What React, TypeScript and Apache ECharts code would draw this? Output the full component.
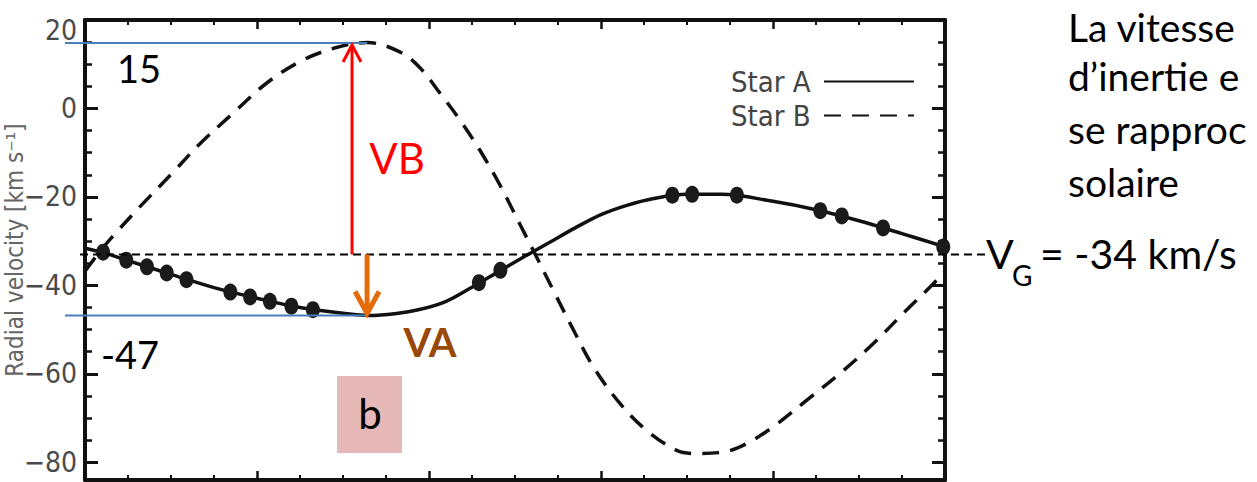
import React, { useEffect, useRef } from "react";
import * as echarts from "echarts";

// ---- axis ticks ----
const phaseMajorInterval = 0.2;
const yMajorTicks = [20, 0, -20, -40, -60, -80];
const yMinorTicks = [20, 15, 10, 5, 0, -5, -10, -15, -20, -25, -30, -35, -40, -45, -50, -55, -60, -65, -70, -75, -80];

// ---- Star A fitted curve (solid) ----
const starAPhase = [0, 0.021, 0.05, 0.1, 0.15, 0.2, 0.25, 0.3, 0.33, 0.36, 0.39, 0.42, 0.45, 0.48, 0.51, 0.54, 0.57, 0.6, 0.63, 0.66, 0.7, 0.74, 0.8, 0.85, 0.9, 0.95, 1.0];
const starAVelocity = [-31.6, -32.6, -34.4, -37.5, -40.5, -42.9, -45.0, -46.3, -46.8, -46.4, -45.4, -43.6, -40.4, -37.0, -33.6, -30.3, -27.0, -24.0, -21.9, -20.4, -19.4, -19.4, -21.0, -22.9, -25.4, -28.3, -31.3];

// ---- Star A observations (dots) ----
const obsAPhase = [0.021, 0.048, 0.072, 0.095, 0.118, 0.169, 0.192, 0.215, 0.24, 0.265, 0.458, 0.483, 0.683, 0.706, 0.758, 0.855, 0.88, 0.928, 0.998];
const obsAVelocity = [-32.5, -34.3, -35.8, -37.2, -38.7, -41.5, -42.6, -43.6, -44.7, -45.5, -39.4, -36.6, -19.6, -19.4, -19.6, -23.1, -24.3, -27.0, -31.3];

// ---- Star B fitted curve (dashed) ----
const starBPhase = [0, 0.017, 0.035, 0.064, 0.103, 0.134, 0.172, 0.211, 0.25, 0.289, 0.328, 0.366, 0.39, 0.413, 0.436, 0.459, 0.483, 0.506, 0.521, 0.545, 0.568, 0.591, 0.622, 0.653, 0.688, 0.71, 0.742, 0.769, 0.8, 0.839, 0.878, 0.917, 0.955, 0.983, 1.0];
const starBVelocity = [-36.8, -32.4, -28.3, -22.2, -14.3, -7.9, -1.1, 5.7, 10.6, 13.6, 14.9, 12.8, 9.1, 3.4, -2.6, -9.4, -17.5, -26.3, -32.0, -41.3, -50.1, -58.4, -66.7, -72.8, -77.3, -78.0, -77.7, -75.8, -72.0, -66.0, -59.9, -53.1, -45.6, -40.3, -36.8];

// ---- annotations ----
const legendNames = ["Star A", "Star B"];
const vbPeakLabel = "15";
const vaMinLabel = "-47";
const vbLineValue = 14.8; // where the picture draws the 15 km/s guide
const vaLineValue = -46.8; // where the picture draws the -47 km/s guide
const vgLineValue = -33.0; // where the picture draws the V_G line
const arrowPhaseVB = 0.3105;
const arrowPhaseVA = 0.328;
const rightTextLines = ["La vitesse", "d\u2019inertie e", "se rapproc", "solaire"];

const narrow = "'Liberation Sans Narrow', 'DejaVu Sans Condensed', 'Roboto Condensed', 'Liberation Sans', sans-serif";
const body = "Lato, 'Open Sans', sans-serif";

const fmtY = (v: number) => (v === 20 ? "{t|20}" : v < 0 ? "\u2212" + Math.abs(v) : String(v));

export default function App() {
  const ref = useRef<HTMLDivElement>(null);
  useEffect(() => {
    document.body.style.margin = "0";
    const el = ref.current!;
    const chart = echarts.init(el, null, { renderer: "svg" });

    const axisLine = { show: true, onZero: false, lineStyle: { color: "#111", width: 4 } };
    const xAxisCommon = {
      type: "value" as const,
      min: 0,
      max: 1,
      interval: phaseMajorInterval,
      axisLine,
      axisTick: { show: true, inside: true, length: 9, lineStyle: { color: "#111", width: 2.5 } },
      minorTick: { show: true, splitNumber: 4, length: 5, lineStyle: { color: "#111", width: 2 } },
      axisLabel: { show: false },
      splitLine: { show: false },
      minorSplitLine: { show: false },
    };
    const labelStyle = { fontFamily: narrow, fontSize: 28, color: "#4a4a4a" };
    const yMajor = (position: "left" | "right", labels: boolean) => ({
      type: "value" as const,
      position,
      min: -84,
      max: 20,
      axisLine,
      axisTick: { show: true, inside: true, length: 13, customValues: yMajorTicks, lineStyle: { color: "#111", width: 3 } },
      axisLabel: labels
        ? {
            show: true,
            customValues: yMajorTicks,
            formatter: fmtY,
            margin: 8,
            ...labelStyle,
            rich: { t: { ...labelStyle, padding: [20, 0, 0, 0] } },
          }
        : { show: false },
      splitLine: { show: false },
    });
    const yMinor = (position: "left" | "right") => ({
      type: "value" as const,
      position,
      min: -84,
      max: 20,
      axisLine: { show: false, onZero: false },
      axisTick: { show: true, inside: true, length: 7, customValues: yMinorTicks, lineStyle: { color: "#111", width: 2.5 } },
      axisLabel: { show: false },
      splitLine: { show: false },
    });

    const option: any = {
      animation: false,
      backgroundColor: "#ffffff",
      grid: { left: 85, right: 312, top: 20, bottom: 2, containLabel: false, outerBoundsMode: "none" },
      legend: {
        data: legendNames,
        orient: "vertical",
        left: 726,
        top: 62,
        align: "right",
        itemWidth: 90,
        itemHeight: 14,
        itemGap: 5,
        formatter: (n: string) => n + " ",
        itemStyle: { opacity: 0 },
        textStyle: { fontFamily: narrow, fontSize: 29, color: "#444" },
      },
      xAxis: [
        { ...xAxisCommon, position: "bottom" },
        { ...xAxisCommon, position: "top" },
      ],
      yAxis: [
        {
          ...yMajor("left", true),
          name: "Radial velocity [km s\u207B\u00B9]",
          nameLocation: "middle",
          nameGap: 58,
          nameMoveOverlap: false,
          nameTextStyle: { fontFamily: narrow, fontSize: 24, color: "#666" },
        },
        yMinor("left"),
        yMajor("right", false),
        yMinor("right"),
      ],
      series: [
        {
          name: "Star A",
          type: "line",
          xAxisIndex: 0,
          yAxisIndex: 0,
          smooth: 0.35,
          symbol: "none",
          lineStyle: { color: "#111", width: 3.5 },
          itemStyle: { color: "#111" },
          data: starAPhase.map((p, i) => [p, starAVelocity[i]]),
          z: 3,
        },
        {
          name: "Star B",
          type: "line",
          xAxisIndex: 0,
          yAxisIndex: 0,
          smooth: 0.35,
          symbol: "none",
          lineStyle: { color: "#111", width: 3.5, type: [17, 11] },
          itemStyle: { color: "#111" },
          data: starBPhase.map((p, i) => [p, starBVelocity[i]]),
          z: 2,
        },
        {
          name: "Star A observations",
          type: "scatter",
          xAxisIndex: 0,
          yAxisIndex: 0,
          symbol: "circle",
          symbolSize: [14, 17],
          itemStyle: { color: "#1a1a1a", opacity: 1 },
          data: obsAPhase.map((p, i) => [p, obsAVelocity[i]]),
          z: 4,
        },
      ],
    };
    chart.setOption(option);

    const P = (x: number, v: number) => chart.convertToPixel({ seriesIndex: 0 }, [x, v]) as number[];
    const [, yVB] = P(0, vbLineValue);
    const [, yVA] = P(0, vaLineValue);
    const [, yVG] = P(0, vgLineValue);
    const [xRed] = P(arrowPhaseVB, 0);
    const [xOrange] = P(arrowPhaseVA, 0);
    const [xLeft] = P(0, 0);
    const [xRight] = P(1, 0);

    const txt = (text: string, x: number, y: number, extra: any = {}) => ({
      type: "text",
      x,
      y,
      z: 100,
      style: { text, fontFamily: body, fontSize: 38, fill: "#000", align: "center", verticalAlign: "middle", ...extra },
    });

    const graphic: any[] = [
      // blue guide lines
      { type: "line", z: 90, shape: { x1: xLeft - 20, y1: yVB, x2: xOrange, y2: yVB }, style: { stroke: "#4A7EBB", lineWidth: 2 } },
      { type: "line", z: 90, shape: { x1: xLeft - 20, y1: yVA, x2: xOrange, y2: yVA }, style: { stroke: "#4A7EBB", lineWidth: 2 } },
      // V_G dashed line
      { type: "line", z: 90, shape: { x1: xLeft - 5, y1: yVG, x2: xRight + 40, y2: yVG }, style: { stroke: "#000", lineWidth: 2, lineDash: [8, 5] } },
      // red arrow (VB)
      { type: "line", z: 95, shape: { x1: xRed, y1: yVG, x2: xRed, y2: yVB + 2 }, style: { stroke: "#FF0000", lineWidth: 3 } },
      { type: "polyline", z: 95, shape: { points: [[xRed - 9, yVB + 19], [xRed, yVB + 2], [xRed + 9, yVB + 19]] }, style: { stroke: "#FF0000", lineWidth: 3, fill: "none" } },
      // orange arrow (VA)
      { type: "line", z: 95, shape: { x1: xOrange, y1: yVG, x2: xOrange, y2: yVA - 2 }, style: { stroke: "#E46C0A", lineWidth: 5 } },
      { type: "polyline", z: 95, shape: { points: [[xOrange - 12, yVA - 24], [xOrange, yVA - 2], [xOrange + 12, yVA - 24]] }, style: { stroke: "#E46C0A", lineWidth: 5, fill: "none" } },
      // labels
      txt(vbPeakLabel, 139, 68),
      txt(vaMinLabel, 130, 354),
      txt("VB", 397, 158, { fill: "#FF0000", fontSize: 42 }),
      txt("VA", 430, 342, { fill: "#984807", fontSize: 40, fontWeight: "bold" }),
      { type: "rect", z: 98, shape: { x: 337, y: 376, width: 65, height: 77 }, style: { fill: "#E6B9B8" } },
      txt("b", 370, 413, { fontSize: 42 }),
      // V_G label
      txt("V", 986, 253, { fontSize: 41, align: "left" }),
      txt("G", 1012, 275, { fontSize: 28, align: "left" }),
      txt("= -34 km/s", 1040, 253, { fontSize: 41, align: "left" }),
    ];
    const lineY = [27, 76, 129, 182];
    rightTextLines.forEach((line, i) => {
      graphic.push(txt(line, 1068, lineY[i], { fontSize: 39, align: "left" }));
    });
    chart.setOption({ graphic });

    return () => chart.dispose();
  }, []);
  return <div ref={ref} style={{ width: 1257, height: 482 }} />;
}
